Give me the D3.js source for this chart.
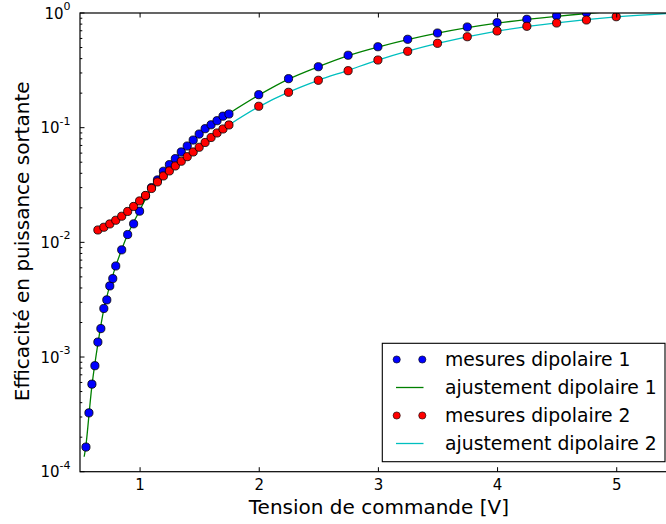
<!DOCTYPE html>
<html><head><meta charset="utf-8">
<script src="https://cdn.jsdelivr.net/npm/d3@7/dist/d3.min.js"></script>
<style>body{margin:0;background:#fff} svg{display:block} text{font-family:"DejaVu Sans",sans-serif;fill:#000}</style>
</head><body><svg id="c" width="666" height="524"></svg>
<script>
// Dipole 1 measurements
const volts1 = [0.55,0.575,0.6,0.625,0.65,0.675,0.7,0.725,0.75,0.775,0.8,0.85,0.9,0.95,1.0,1.05,1.1,1.15,1.2,1.25,1.3,1.35,1.4,1.45,1.5,1.55,1.6,1.65,1.7,1.75,
  2.0,2.25,2.5,2.75,3.0,3.25,3.5,3.75,4.0,4.25,4.5,4.75,5.0];
const eff1 = [1.64e-4,3.26e-4,5.8e-4,8.4e-4,1.35e-3,1.77e-3,2.65e-3,3.15e-3,4.17e-3,4.83e-3,6.22e-3,8.6e-3,0.0117,0.0145,0.0187,0.0254,0.0300,0.0350,0.0417,0.0476,0.0537,0.0614,0.0692,0.078,0.088,0.098,0.106,0.115,0.126,0.1316,
  0.194,0.2675,0.340,0.428,0.508,0.590,0.669,0.755,0.823,0.881,0.947,1.006,1.06];
// Dipole 2 measurements
const volts2 = [0.65,0.7,0.75,0.8,0.85,0.9,0.95,1.0,1.05,1.1,1.15,1.2,1.25,1.3,1.35,1.4,1.45,1.5,1.55,1.6,1.65,1.7,1.75,
  2.0,2.25,2.5,2.75,3.0,3.25,3.5,3.75,4.0,4.25,4.5,4.75,5.0];
const eff2 = [0.01282,0.01354,0.01447,0.01558,0.01689,0.0186,0.02056,0.02296,0.02564,0.02951,0.03362,0.03793,0.04194,0.04636,0.05096,0.05587,0.06139,0.06747,0.0743,0.0821,0.0899,0.0974,0.1056,
  0.1537,0.2035,0.259,0.314,0.389,0.4635,0.544,0.621,0.697,0.766,0.818,0.869,0.928];
// Fit curves
const fitV1 = [0.535,0.55,0.6,0.65,0.7,0.75,0.8,0.9,1.0,1.1,1.2,1.3,1.4,1.5,1.6,1.75,2.0,2.25,2.5,2.75,3.0,3.5,4.0,4.5,5.0,5.5];
const fitE1 = [1.35e-4,1.7e-4,5.6e-4,1.3e-3,2.6e-3,4.2e-3,6.2e-3,0.0117,0.0189,0.0297,0.0415,0.0540,0.0690,0.0870,0.1050,0.133,0.192,0.265,0.340,0.425,0.505,0.667,0.815,0.935,1.04,1.12];
const fitV2 = [0.65,0.75,0.85,0.95,1.05,1.15,1.25,1.35,1.45,1.55,1.65,1.75,2.0,2.25,2.5,2.75,3.0,3.5,4.0,4.5,5.0,5.5];
const fitE2 = [0.0128,0.0144,0.0168,0.0205,0.0257,0.0336,0.0419,0.0510,0.0614,0.0743,0.0899,0.1056,0.152,0.204,0.259,0.316,0.389,0.543,0.695,0.820,0.925,1.0];
const xTicks = [1,2,3,4,5];
const yTicks = [1e-4,1e-3,1e-2,1e-1,1];
const yTickExp = ["-4","-3","-2","-1","0"];
const legendLabels = ["mesures dipolaire 1","ajustement dipolaire 1","mesures dipolaire 2","ajustement dipolaire 2"];
const xLabel = "Tension de commande [V]";
const yLabel = "Efficacité en puissance sortante";

const svg = d3.select("#c");
const L = 80, R = 675.8, T = 13, B = 471.7;
const x = d3.scaleLinear().domain([0.5, 5.5]).range([L, R]);
const y = d3.scaleLog().domain([1e-4, 1]).range([B, T]);

svg.append("defs").append("clipPath").attr("id","clip")
  .append("rect").attr("x",L).attr("y",T).attr("width",R-L).attr("height",B-T);

const plot = svg.append("g").attr("clip-path","url(#clip)");
const line = d3.line().x(d=>x(d[0])).y(d=>y(d[1])).curve(d3.curveCatmullRom.alpha(0.5));

plot.append("path").datum(fitV1.map((v,i)=>[v,fitE1[i]])).attr("d",line)
  .attr("fill","none").attr("stroke","#008000").attr("stroke-width",1.3);
plot.selectAll("circle.b").data(volts1.map((v,i)=>[v,eff1[i]])).enter().append("circle")
  .attr("cx",d=>x(d[0])).attr("cy",d=>y(d[1])).attr("r",4.1)
  .attr("fill","#0000ff").attr("stroke","#000").attr("stroke-width",0.8);
plot.append("path").datum(fitV2.map((v,i)=>[v,fitE2[i]])).attr("d",line)
  .attr("fill","none").attr("stroke","#00bfbf").attr("stroke-width",1.3);
plot.selectAll("circle.r").data(volts2.map((v,i)=>[v,eff2[i]])).enter().append("circle")
  .attr("cx",d=>x(d[0])).attr("cy",d=>y(d[1])).attr("r",4.1)
  .attr("fill","#ff0000").attr("stroke","#000").attr("stroke-width",0.8);

// frame
svg.append("rect").attr("x",L).attr("y",T).attr("width",R-L).attr("height",B-T)
  .attr("fill","none").attr("stroke","#000").attr("stroke-width",1.2);

// x ticks (inside, bottom and top)
const xAxisB = d3.axisBottom(x).tickValues(xTicks).tickSizeInner(-4.5).tickSizeOuter(0).tickPadding(7.5).tickFormat(d3.format("d"));
const gxb = svg.append("g").attr("transform",`translate(0,${B})`).call(xAxisB);
gxb.select(".domain").remove();
gxb.selectAll("text").attr("font-size",15).attr("font-family","DejaVu Sans").attr("fill","#000");
gxb.selectAll("line").attr("stroke","#000");
const xAxisT = d3.axisTop(x).tickValues(xTicks).tickSizeInner(-4.5).tickSizeOuter(0).tickFormat("");
const gxt = svg.append("g").attr("transform",`translate(0,${T})`).call(xAxisT);
gxt.select(".domain").remove();
gxt.selectAll("line").attr("stroke","#000");

// y ticks: major and minor, inside
const minor = [];
for (let e=-4;e<0;e++) for (let m=2;m<=9;m++) minor.push(m*Math.pow(10,e));
const gy = svg.append("g");
gy.selectAll("line.maj").data(yTicks).enter().append("line")
  .attr("x1",L).attr("x2",L+4.5).attr("y1",d=>y(d)).attr("y2",d=>y(d)).attr("stroke","#000");
gy.selectAll("line.min").data(minor).enter().append("line")
  .attr("x1",L).attr("x2",L+2.3).attr("y1",d=>y(d)).attr("y2",d=>y(d)).attr("stroke","#000");
gy.selectAll("line.majr").data(yTicks).enter().append("line")
  .attr("x1",R).attr("x2",R-4.5).attr("y1",d=>y(d)).attr("y2",d=>y(d)).attr("stroke","#000");
const lab = gy.selectAll("text.yl").data(yTicks).enter().append("text")
  .attr("x",L-9.5).attr("y",d=>y(d)+5.5).attr("text-anchor","end").attr("font-size",15);
lab.append("tspan").text("10");
lab.append("tspan").attr("dy",-8.5).attr("font-size",11).text((d,i)=>yTickExp[i]);

// axis labels
svg.append("text").attr("x",(L+R)/2 + 1).attr("y",514).attr("text-anchor","middle").attr("font-size",20).text(xLabel);
svg.append("text").attr("transform",`translate(29,${(T+B)/2 - 1}) rotate(-90)`).attr("text-anchor","middle").attr("font-size",20).text(yLabel);

// legend
const lg = svg.append("g");
lg.append("rect").attr("x",382.3).attr("y",343.3).attr("width",665-382.3).attr("height",461.7-343.3)
  .attr("fill","#fff").attr("stroke","#000").attr("stroke-width",1.1);
const rowY = [359.5, 387.5, 415.5, 443.5];
const kinds = [{t:"m",c:"#0000ff"},{t:"l",c:"#008000"},{t:"m",c:"#ff0000"},{t:"l",c:"#00bfbf"}];
kinds.forEach((k,i)=>{
  if (k.t==="m") {
    [396.7,422.3].forEach(cx=>lg.append("circle").attr("cx",cx).attr("cy",rowY[i]).attr("r",3.6)
      .attr("fill",k.c).attr("stroke","#000").attr("stroke-width",0.6));
  } else {
    lg.append("line").attr("x1",396).attr("x2",423.5).attr("y1",rowY[i]).attr("y2",rowY[i])
      .attr("stroke",k.c).attr("stroke-width",1.3);
  }
  lg.append("text").attr("x",445).attr("y",rowY[i]+6.5).attr("font-size",18.8).text(legendLabels[i]);
});
</script></body></html>
